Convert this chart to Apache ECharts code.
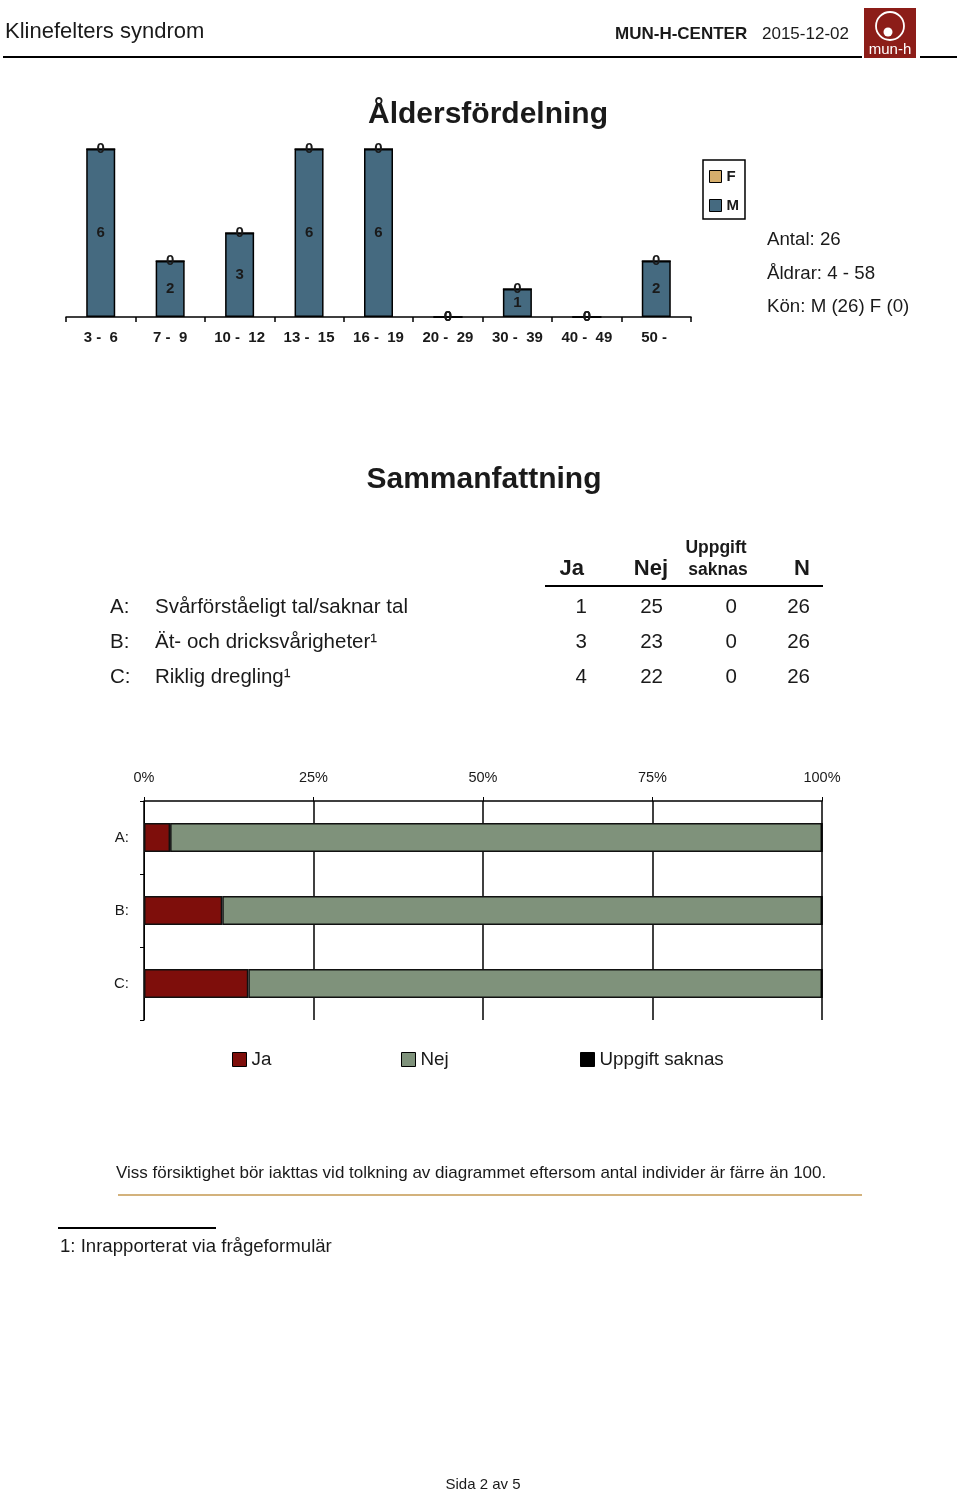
<!DOCTYPE html>
<html><head><meta charset="utf-8">
<script src="https://cdn.jsdelivr.net/npm/echarts@6/dist/echarts.min.js"></script>
<style>html,body{margin:0;padding:0;background:#fff}#c{width:960px;height:1493px}</style>
</head><body><div id="c"></div>
<script>
const ageCategories = ['3 -  6','7 -  9','10 -  12','13 -  15','16 -  19','20 -  29','30 -  39','40 -  49','50 - '];
const maleCounts = [6,2,3,6,6,0,1,0,2];
const femaleCounts = [0,0,0,0,0,0,0,0,0];
const summaryLetters = ['A:','B:','C:'];
const summaryLabels = ['Svårförståeligt tal/saknar tal','Ät- och dricksvårigheter¹','Riklig dregling¹'];
const jaCounts = [1,3,4];
const nejCounts = [25,23,22];
const saknasCounts = [0,0,0];
const nTotals = [26,26,26];
const infoLines = ['Antal: 26','Åldrar: 4 - 58','Kön: M (26) F (0)'];

const FF = '"Liberation Sans", Arial, Helvetica, sans-serif';
const TXT = '#1a1a1a';
const pct = (arr) => arr.map((v,i) => v / nTotals[i] * 100);

const chart = echarts.init(document.getElementById('c'), null, {renderer:'canvas'});

const g = [];
function txt(x,y,text,size,opts){
  opts = opts||{};
  g.push({type:'text', x:x, y:y, style:{text:text, font:(opts.bold?'bold ':'')+size+'px '+FF, fill:opts.fill||TXT, textAlign:opts.align||'left', textVerticalAlign:'middle'}});
}
function line(x1,y1,x2,y2,w,c){
  g.push({type:'line', shape:{x1:x1,y1:y1,x2:x2,y2:y2}, style:{stroke:c||'#000', lineWidth:w}});
}
// header
txt(5,32,'Klinefelters syndrom',22);
txt(615,34,'MUN-H-CENTER',17,{bold:true});
txt(762,34,'2015-12-02',17);
line(3,57,862,57,2);
line(920,57,957,57,2);
g.push({type:'rect', shape:{x:864,y:8,width:52,height:50}, style:{fill:'#8c1d18'}});
g.push({type:'circle', shape:{cx:890,cy:26,r:14}, style:{fill:'none', stroke:'#fff', lineWidth:1.8}});
g.push({type:'circle', shape:{cx:888,cy:32,r:4.5}, style:{fill:'#fff'}});
txt(890,50,'mun-h',15,{fill:'#fff',align:'center'});
// titles
txt(488,115,'Åldersfördelning',30,{bold:true,align:'center'});
infoLines.forEach((t,i)=>txt(767,240+i*33.5,t,18.7));
txt(484,480,'Sammanfattning',30,{bold:true,align:'center'});
// table header
txt(584,569,'Ja',22,{bold:true,align:'right'});
txt(668,569,'Nej',22,{bold:true,align:'right'});
txt(716,548,'Uppgift',17.5,{bold:true,align:'center'});
txt(718,570,'saknas',17.5,{bold:true,align:'center'});
txt(810,569,'N',22,{bold:true,align:'right'});
line(545,586,823,586,2);
summaryLetters.forEach((l,i)=>{
  const y = 607 + i*35;
  txt(110,y,l,20.5);
  txt(155,y,summaryLabels[i],20.5);
  txt(587,y,String(jaCounts[i]),20.5,{align:'right'});
  txt(663,y,String(nejCounts[i]),20.5,{align:'right'});
  txt(737,y,String(saknasCounts[i]),20.5,{align:'right'});
  txt(810,y,String(nTotals[i]),20.5,{align:'right'});
});
// footer
txt(116,1173,'Viss försiktighet bör iakttas vid tolkning av diagrammet eftersom antal individer är färre än 100.',17);
line(118,1195,862,1195,2,'#d3b27c');
line(58,1228,216,1228,2);
txt(60,1247,'1: Inrapporterat via frågeformulär',18.6);
txt(483,1485,'Sida 2 av 5',15,{align:'center'});

const topLabel = {show:true, position:'inside', color:TXT, fontWeight:'bold', fontSize:15, fontFamily:FF, textBorderWidth:0};
const legText = {color:TXT, fontSize:18.8, fontFamily:FF};

const option = {
  animation:false,
  backgroundColor:'#fff',
  grid:[
    {left:66, top:149, width:625, height:168},
    {left:144, top:801, width:678, height:219}
  ],
  xAxis:[
    {gridIndex:0, type:'category', data:ageCategories,
     axisLine:{lineStyle:{color:'#000', width:1.5}},
     axisTick:{show:true, length:5, lineStyle:{color:'#000', width:1.5}},
     axisLabel:{color:TXT, fontWeight:'bold', fontSize:15, fontFamily:FF, margin:13, interval:0}},
    {gridIndex:1, type:'value', position:'top', min:0, max:100, interval:25,
     axisLine:{show:true, lineStyle:{color:'#000', width:1.5}},
     axisTick:{show:true, length:4, lineStyle:{color:'#000'}},
     splitLine:{show:true, lineStyle:{color:'#000', width:1.5}},
     axisLabel:{formatter:'{value}%', color:TXT, fontSize:14.5, fontFamily:FF, margin:16}}
  ],
  yAxis:[
    {gridIndex:0, type:'value', min:0, max:6, show:false},
    {gridIndex:1, type:'category', data:summaryLetters, inverse:true,
     axisLine:{show:true, lineStyle:{color:'#000', width:1}},
     axisTick:{show:true, length:4, lineStyle:{color:'#000'}},
     axisLabel:{color:TXT, fontSize:15, fontFamily:FF, margin:15}}
  ],
  legend:[
    {data:['F','M'], orient:'vertical', left:703, top:160, padding:[9,6,6,6], itemGap:14,
     borderColor:'#000', borderWidth:1.5, itemWidth:12, itemHeight:12, icon:'rect',
     textStyle:{color:TXT, fontWeight:'bold', fontSize:15, fontFamily:FF}, itemStyle:{borderColor:'#000', borderWidth:1}},
    {data:['Ja'], left:227, top:1045, itemWidth:14, itemHeight:14, icon:'rect', textStyle:legText, itemStyle:{borderColor:'#000', borderWidth:1}},
    {data:['Nej'], left:396, top:1045, itemWidth:14, itemHeight:14, icon:'rect', textStyle:legText, itemStyle:{borderColor:'#000', borderWidth:1}},
    {data:['Uppgift saknas'], left:575, top:1045, itemWidth:14, itemHeight:14, icon:'rect', textStyle:legText, itemStyle:{borderColor:'#000', borderWidth:1}}
  ],
  series:[
    {name:'M', type:'bar', xAxisIndex:0, yAxisIndex:0, stack:'age', data:maleCounts, barWidth:29,
     itemStyle:{color:'#456a80', borderColor:'#000', borderWidth:1.5}, label:topLabel},
    {name:'F', type:'bar', xAxisIndex:0, yAxisIndex:0, stack:'age', data:femaleCounts, barWidth:29,
     itemStyle:{color:'#d6ae6c', borderColor:'#000', borderWidth:1.5}, label:topLabel},
    {name:'Ja', type:'bar', xAxisIndex:1, yAxisIndex:1, stack:'pct', data:pct(jaCounts), barWidth:29,
     itemStyle:{color:'#7e0e0b', borderColor:'#111', borderWidth:1.5}},
    {name:'Nej', type:'bar', xAxisIndex:1, yAxisIndex:1, stack:'pct', data:pct(nejCounts), barWidth:29,
     itemStyle:{color:'#7f927b', borderColor:'#111', borderWidth:1.5}},
    {name:'Uppgift saknas', type:'bar', xAxisIndex:1, yAxisIndex:1, stack:'pct', data:pct(saknasCounts), barWidth:29,
     itemStyle:{color:'#000', borderColor:'#000', borderWidth:1}}
  ],
  graphic:g
};
chart.setOption(option);
</script></body></html>
